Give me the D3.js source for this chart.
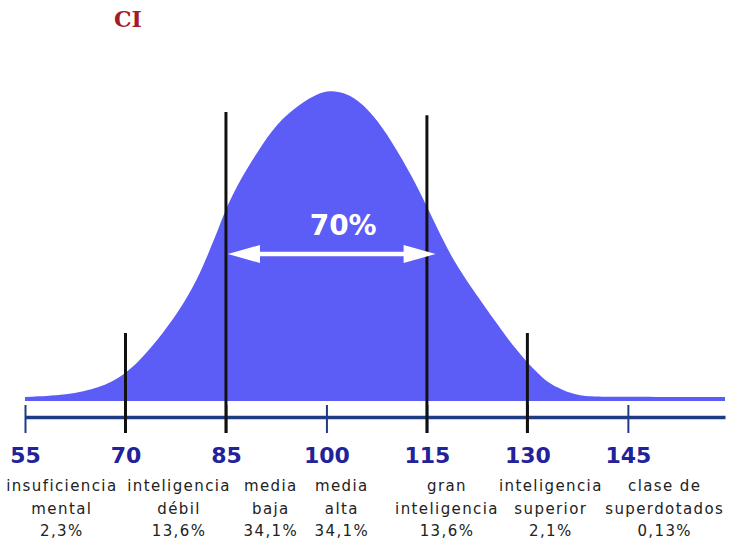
<!DOCTYPE html>
<html>
<head>
<meta charset="utf-8">
<script src="https://cdn.jsdelivr.net/npm/d3@7"></script>
<style>
  body { margin: 0; background: #fff; }
  svg { display: block; }
  .cat { font-family: "DejaVu Sans", sans-serif; font-size: 15px; letter-spacing: 1.4px; fill: #222; }
</style>
</head>
<body>
<div id="chart"></div>
<script>
// curve: IQ value and height (% of the peak)
const curveIQ = [55.0, 61.3, 66.2, 69.8, 72.2, 74.7, 78.1, 80.7, 82.6, 83.8, 85.1, 87.1, 89.6, 92.6, 96.0, 98.7,
  100.5, 102.8, 105.4, 108.4, 111.4, 114.0, 116.5, 118.9, 121.9, 123.7, 125.4, 126.9, 128.4, 129.9, 131.4,
  132.9, 135.3, 137.8, 140.8, 159.5];
const curveHeight = [1.3, 1.9, 4.2, 8.4, 13.3, 19.4, 29.4, 39.2, 48.9, 55.3, 62.8, 71.5, 80.3, 90.0, 96.1, 99.5,
  100.5, 99.8, 96.4, 88.7, 78.0, 67.6, 56.0, 45.6, 35.9, 30.4, 25.2, 20.7, 16.5, 12.6, 9.4,
  6.1, 3.4, 1.6, 1.3, 1.3];

// axis ticks
const tickValues = [55, 70, 85, 100, 115, 130, 145];

// black dividers and how high they reach (same units as curveHeight)
const dividerIQ = [70, 85, 115, 130];
const dividerTop = [22, 93.5, 92.5, 22];

// categories under the axis
const catCenter = [60.5, 78.0, 91.7, 102.3, 118.0, 133.5, 150.5];
const catLine1 = ['insuficiencia', 'inteligencia', 'media', 'media', 'gran', 'inteligencia', 'clase de'];
const catLine2 = ['mental', 'débil', 'baja', 'alta', 'inteligencia', 'superior', 'superdotados'];
const catPct = ['2,3%', '13,6%', '34,1%', '34,1%', '13,6%', '2,1%', '0,13%'];

// the 70% band
const bandRange = [85.3, 116.3];
const bandLabel = '70%';

const width = 730, height = 549;
const axisY = 417;

const svg = d3.select('#chart').append('svg')
  .attr('width', width)
  .attr('height', height);

const x = d3.scaleLinear().domain([55, 159.5]).range([25, 725]);
const y = d3.scaleLinear().domain([0, 100]).range([401, 92]);

// title
svg.append('text')
  .attr('x', 114)
  .attr('y', 27)
  .attr('font-family', '"DejaVu Serif", serif')
  .attr('font-weight', 'bold')
  .attr('font-size', 22)
  .attr('fill', '#a31b2b')
  .text('CI');

// bell curve
const points = curveIQ.map((v, i) => ({ iq: v, h: curveHeight[i] }));
const area = d3.area()
  .x(d => x(d.iq))
  .y0(y(0))
  .y1(d => y(d.h))
  .curve(d3.curveBasis);

svg.append('path')
  .datum(points)
  .attr('d', area)
  .attr('fill', '#5c5cf7');

// axis
const axis = d3.axisBottom(x)
  .tickValues(tickValues)
  .tickSize(16)
  .tickSizeOuter(0)
  .tickPadding(14)
  .tickFormat(d3.format('d'));

const gAxis = svg.append('g')
  .attr('transform', `translate(0,${axisY})`)
  .call(axis);

gAxis.select('.domain')
  .attr('stroke', '#1e3c84')
  .attr('stroke-width', 3.5);
gAxis.selectAll('.tick line')
  .attr('y1', -12)
  .attr('stroke', '#1e3c84')
  .attr('stroke-width', 2);
gAxis.selectAll('.tick text')
  .attr('font-family', '"DejaVu Sans", sans-serif')
  .attr('font-weight', 'bold')
  .attr('font-size', 22)
  .attr('fill', '#22229a')
  .attr('dy', '0.71em');

// dividers
dividerIQ.forEach((v, i) => {
  svg.append('line')
    .attr('x1', x(v)).attr('x2', x(v))
    .attr('y1', y(dividerTop[i]))
    .attr('y2', axisY + 16)
    .attr('stroke', '#111')
    .attr('stroke-width', 3);
});

// 70% arrow
const arrowY = 254;
const x0 = x(bandRange[0]), x1 = x(bandRange[1]);
const headLen = 32, headHalf = 9;
svg.append('line')
  .attr('x1', x0 + headLen - 2).attr('x2', x1 - headLen + 2)
  .attr('y1', arrowY).attr('y2', arrowY)
  .attr('stroke', '#fff')
  .attr('stroke-width', 4.5);
svg.append('path')
  .attr('d', `M${x0},${arrowY} L${x0 + headLen},${arrowY - headHalf} L${x0 + headLen},${arrowY + headHalf} Z`)
  .attr('fill', '#fff');
svg.append('path')
  .attr('d', `M${x1},${arrowY} L${x1 - headLen},${arrowY - headHalf} L${x1 - headLen},${arrowY + headHalf} Z`)
  .attr('fill', '#fff');

svg.append('text')
  .attr('x', x(102.5))
  .attr('y', 235)
  .attr('text-anchor', 'middle')
  .attr('font-family', '"DejaVu Sans", sans-serif')
  .attr('font-weight', 'bold')
  .attr('font-size', 28)
  .attr('fill', '#fff')
  .text(bandLabel);

// category labels
const cats = svg.append('g');
catCenter.forEach((v, i) => {
  const lines = [catLine1[i], catLine2[i], catPct[i]];
  lines.forEach((t, j) => {
    cats.append('text')
      .attr('class', 'cat')
      .attr('x', x(v))
      .attr('y', 491 + j * 22.5)
      .attr('text-anchor', 'middle')
      .text(t);
  });
});
</script>
</body>
</html>
